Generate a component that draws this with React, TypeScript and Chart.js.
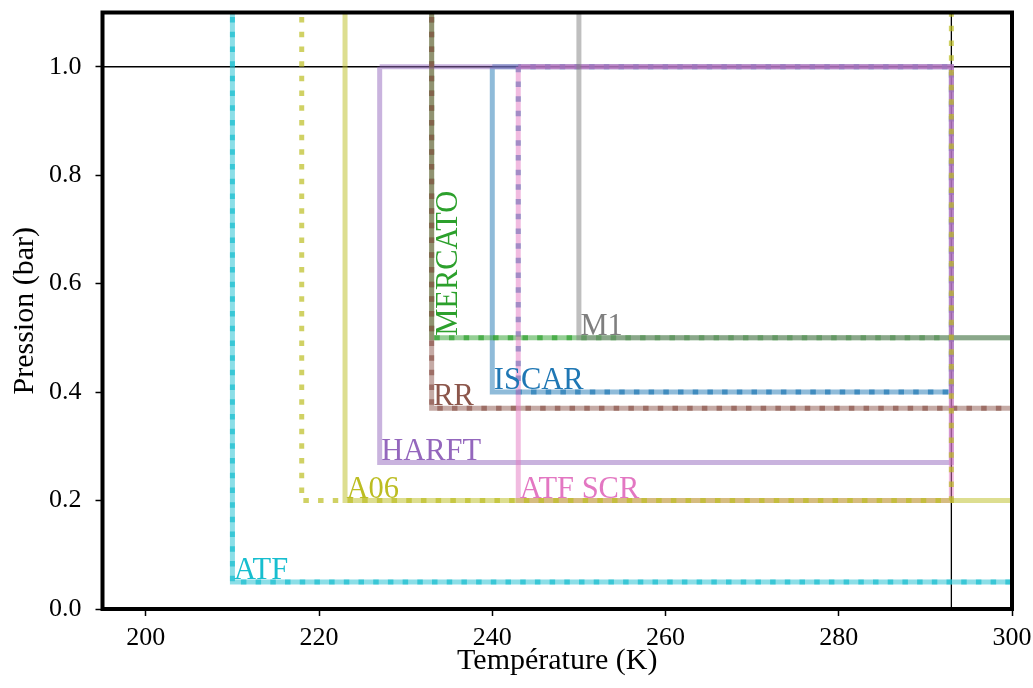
import React, { useEffect, useRef } from "react";
import { Chart, registerables } from "chart.js";

Chart.register(...registerables);

// ---- axis ticks ----
const xTicks = [200, 220, 240, 260, 280, 300];
const yTicks = [0.0, 0.2, 0.4, 0.6, 0.8, 1.0];
const xMin = 195;
const xMax = 300;
const yMin = 0;
const yMax = 1.1;

// reference lines
const refPressure = 1.0;
const refTemperature = 293;

// ---- series paths (Température K, Pression bar) ----
// solid = range, dotted = second envelope
const iscarT = [240, 240, 293, 293, 240];
const iscarP = [1.0, 0.4, 0.4, 1.0, 1.0];
const iscarDotT = [243, 243, 293, 293, 243];
const iscarDotP = [1.0, 0.4, 0.4, 1.0, 1.0];

const mercatoT = [233, 233, 310];
const mercatoP = [1.2, 0.5, 0.5];
const mercatoDotT = [233, 233, 293];
const mercatoDotP = [1.2, 0.5, 0.5];

const harftT = [227, 227, 293, 293, 227];
const harftP = [1.0, 0.27, 0.27, 1.0, 1.0];

const rrT = [233, 233, 310];
const rrP = [1.2, 0.37, 0.37];
const rrDotT = [233, 233, 310];
const rrDotP = [1.2, 0.37, 0.37];

const atfScrT = [243, 243, 293, 293, 243];
const atfScrP = [1.0, 0.2, 0.2, 1.0, 1.0];

const m1T = [250, 250, 310];
const m1P = [1.2, 0.5, 0.5];

const a06T = [223, 223, 310];
const a06P = [1.2, 0.2, 0.2];
const a06DotT = [218, 218, 293, 293];
const a06DotP = [1.2, 0.2, 0.2, 1.2];

const atfT = [210, 210, 310];
const atfP = [1.2, 0.05, 0.05];
const atfDotT = [210, 210, 310];
const atfDotP = [1.2, 0.05, 0.05];

// ---- labels ----
const labelNames = ["ATF", "A06", "HARFT", "ATF SCR", "RR", "ISCAR", "M1", "MERCATO"];
const labelT = [210, 223, 227, 243, 233, 240, 250, 233];
const labelP = [0.05, 0.2, 0.27, 0.2, 0.37, 0.4, 0.5, 0.5];
const labelRotated = [false, false, false, false, false, false, false, true];

const C = {
  blue: "31,119,180",
  green: "44,160,44",
  purple: "148,103,189",
  brown: "140,86,75",
  pink: "227,119,194",
  gray: "127,127,127",
  olive: "188,189,34",
  cyan: "23,190,207",
};
const labelColors = [C.cyan, C.olive, C.purple, C.pink, C.brown, C.blue, C.gray, C.green];

const FONT = "'Liberation Serif', 'Times New Roman', serif";

function pts(T: number[], P: number[]) {
  return T.map((t, i) => ({ x: t, y: P[i] }));
}

function solid(T: number[], P: number[], rgb: string) {
  return {
    data: pts(T, P),
    borderColor: `rgba(${rgb},0.5)`,
    borderWidth: 5,
    borderDash: [],
    borderJoinStyle: "miter",
    borderCapStyle: "butt",
  };
}
function dotted(T: number[], P: number[], rgb: string) {
  return {
    data: pts(T, P),
    borderColor: `rgba(${rgb},0.7)`,
    borderWidth: 5,
    borderDash: [5.5, 9.2],
    borderJoinStyle: "miter",
    borderCapStyle: "butt",
  };
}

const refLinesPlugin = {
  id: "refLines",
  beforeDatasetsDraw(chart: any) {
    const { ctx, chartArea, scales } = chart;
    const y1 = scales.y.getPixelForValue(refPressure);
    const x1 = scales.x.getPixelForValue(refTemperature);
    ctx.save();
    ctx.strokeStyle = "#000";
    ctx.lineWidth = 1.3;
    ctx.beginPath();
    ctx.moveTo(chartArea.left, y1);
    ctx.lineTo(chartArea.right, y1);
    ctx.moveTo(x1, chartArea.top);
    ctx.lineTo(x1, chartArea.bottom);
    ctx.stroke();
    ctx.restore();
  },
};

const labelsPlugin = {
  id: "seriesLabels",
  afterDatasetsDraw(chart: any) {
    const { ctx, scales } = chart;
    ctx.save();
    ctx.font = `30.5px ${FONT}`;
    ctx.textAlign = "left";
    ctx.textBaseline = "alphabetic";
    labelNames.forEach((name, i) => {
      const px = scales.x.getPixelForValue(labelT[i]);
      const py = scales.y.getPixelForValue(labelP[i]);
      ctx.fillStyle = `rgb(${labelColors[i]})`;
      if (labelRotated[i]) {
        ctx.save();
        ctx.translate(px, py);
        ctx.rotate(-Math.PI / 2);
        ctx.fillText(name, 2, 25.5);
        ctx.restore();
      } else {
        ctx.fillText(name, px + 1.5, py - 3);
      }
    });
    ctx.restore();
  },
};

const framePlugin = {
  id: "frame",
  afterDraw(chart: any) {
    const { ctx, chartArea } = chart;
    ctx.save();
    ctx.strokeStyle = "#000";
    ctx.lineWidth = 4;
    ctx.strokeRect(
      chartArea.left,
      chartArea.top,
      chartArea.right - chartArea.left,
      chartArea.bottom - chartArea.top
    );
    ctx.restore();
  },
};

export default function App() {
  const ref = useRef<HTMLCanvasElement | null>(null);
  useEffect(() => {
    if (!ref.current) return;
    const drawOrder = [
      solid(iscarT, iscarP, C.blue),
      dotted(iscarDotT, iscarDotP, C.blue),
      solid(mercatoT, mercatoP, C.green),
      dotted(mercatoDotT, mercatoDotP, C.green),
      solid(harftT, harftP, C.purple),
      solid(rrT, rrP, C.brown),
      dotted(rrDotT, rrDotP, C.brown),
      solid(atfScrT, atfScrP, C.pink),
      solid(m1T, m1P, C.gray),
      solid(a06T, a06P, C.olive),
      dotted(a06DotT, a06DotP, C.olive),
      solid(atfT, atfP, C.cyan),
      dotted(atfDotT, atfDotP, C.cyan),
    ];
    const datasets = drawOrder
      .map((d: any) => ({
        ...d,
        showLine: true,
        pointRadius: 0,
        fill: false,
        tension: 0,
        clip: 0,
      }))
      .reverse();

    const tickFont = { family: FONT, size: 26, lineHeight: 1 };
    const titleFont = { family: FONT, size: 30, lineHeight: 1 };

    const chart = new Chart(ref.current, {
      type: "scatter",
      data: { datasets: datasets as any },
      plugins: [refLinesPlugin, labelsPlugin, framePlugin],
      options: {
        animation: false,
        responsive: false,
        devicePixelRatio: 1,
        layout: { padding: { top: 12.5, right: 21, left: 0, bottom: 0 } },
        plugins: { legend: { display: false }, tooltip: { enabled: false } },
        scales: {
          x: {
            type: "linear",
            min: xMin,
            max: xMax,
            afterBuildTicks: (s: any) => {
              s.ticks = xTicks.map((v) => ({ value: v }));
            },
            afterFit: (s: any) => {
              s.height = 79;
              s.paddingLeft = 0;
              s.paddingRight = 0;
              s.paddingTop = 0;
              s.paddingBottom = 0;
            },
            ticks: {
              autoSkip: false,
              maxRotation: 0,
              padding: 9,
              color: "#000",
              font: tickFont,
              callback: (v: any) => String(v),
            },
            grid: {
              drawOnChartArea: false,
              drawTicks: true,
              tickLength: 7,
              tickWidth: 1.5,
              tickColor: "#000",
            },
            border: { display: false },
            title: {
              display: true,
              text: "Température (K)",
              color: "#000",
              font: titleFont,
              padding: { top: 0, bottom: 12 },
            },
          },
          y: {
            type: "linear",
            min: yMin,
            max: yMax,
            afterBuildTicks: (s: any) => {
              s.ticks = yTicks.map((v) => ({ value: v }));
            },
            afterFit: (s: any) => {
              s.width = 102.5;
              s.paddingLeft = 0;
              s.paddingRight = 0;
              s.paddingTop = 0;
              s.paddingBottom = 0;
            },
            ticks: {
              autoSkip: false,
              padding: 14,
              color: "#000",
              font: tickFont,
              callback: (v: any) => Number(v).toFixed(1),
            },
            grid: {
              drawOnChartArea: false,
              drawTicks: true,
              tickLength: 7,
              tickWidth: 1.5,
              tickColor: "#000",
            },
            border: { display: false },
            title: {
              display: true,
              text: "Pression (bar)",
              color: "#000",
              font: titleFont,
              padding: { top: 10, bottom: 0 },
            },
          },
        },
      } as any,
    });
    return () => chart.destroy();
  }, []);

  return (
    <div style={{ position: "absolute", left: 0, top: 0, width: 1033, height: 688, background: "#fff" }}>
      <canvas ref={ref} width={1033} height={688} style={{ display: "block", width: 1033, height: 688 }} />
    </div>
  );
}
